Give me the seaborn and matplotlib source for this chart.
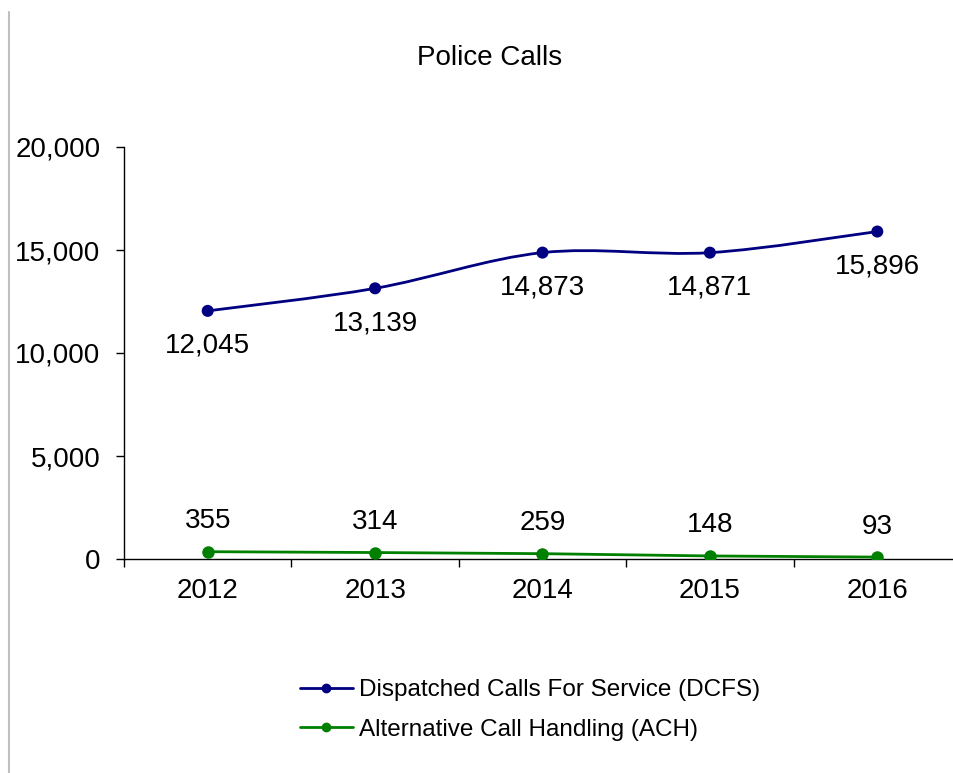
import numpy as np
import pandas as pd
import matplotlib
matplotlib.use("Agg")
import matplotlib.pyplot as plt
import seaborn as sns
from matplotlib.path import Path
from matplotlib.patches import PathPatch
from matplotlib.lines import Line2D
from matplotlib.ticker import FuncFormatter, FixedLocator

years = ["2012", "2013", "2014", "2015", "2016"]
dcfs = [12045, 13139, 14873, 14871, 15896]
ach = [355, 314, 259, 148, 93]
series_names = ["Dispatched Calls For Service (DCFS)", "Alternative Call Handling (ACH)"]
colors = ["#000080", "#008000"]
yticks = [0, 5000, 10000, 15000, 20000]
title = "Police Calls"

sns.set_theme(style="white")
plt.rcParams["font.family"] = ["Liberation Sans", "DejaVu Sans"]
plt.rcParams["text.color"] = "black"

fig = plt.figure(figsize=(9.54, 7.73), dpi=100)
ax = fig.add_axes([124 / 954, (773 - 559) / 773, (961 - 124) / 954, 412 / 773])

x = np.arange(len(years))
df = pd.DataFrame({"x": np.concatenate([x, x]),
                   "value": dcfs + ach,
                   "series": [series_names[0]] * len(years) + [series_names[1]] * len(years)})

# ACH straight line with markers
sns.lineplot(data=df[df.series == series_names[1]], x="x", y="value", ax=ax,
             color=colors[1], lw=2, marker="o", markersize=9, markeredgewidth=0,
             legend=False, zorder=3)
# DCFS markers only; smoothed line drawn as Bezier path
sns.scatterplot(data=df[df.series == series_names[0]], x="x", y="value", ax=ax,
                color=colors[0], s=75, edgecolor="none", legend=False, zorder=4)

pts = np.column_stack([x, dcfs]).astype(float)
verts = [pts[0]]
codes = [Path.MOVETO]
n = len(pts)
for i in range(n - 1):
    p0 = pts[i - 1] if i > 0 else pts[i]
    p1 = pts[i]
    p2 = pts[i + 1]
    p3 = pts[i + 2] if i + 2 < n else pts[i + 1]
    c1 = p1 + (p2 - p0) / 6.0
    c2 = p2 - (p3 - p1) / 6.0
    verts += [c1, c2, p2]
    codes += [Path.CURVE4] * 3
ax.add_patch(PathPatch(Path(verts, codes), facecolor="none", edgecolor=colors[0],
                       lw=2, zorder=3, transform=ax.transData))

# data labels
for xi, v in zip(x, dcfs):
    ax.annotate(f"{v:,}", (xi, v), xytext=(0, -25), textcoords="offset points",
                ha="center", va="center", fontsize=20, color="black")
for xi, v in zip(x, ach):
    ax.annotate(f"{v:,}", (xi, v), xytext=(0, 22), textcoords="offset points",
                ha="center", va="center", fontsize=20, color="black")

ax.set_xlim(-0.5, 4.5)
ax.set_ylim(0, 20000)
ax.set_xticks(x)
ax.set_xticklabels(years)
ax.xaxis.set_minor_locator(FixedLocator(np.arange(-0.5, 4.6, 1.0)))
ax.set_yticks(yticks)
ax.yaxis.set_major_formatter(FuncFormatter(lambda v, p: f"{int(v):,}"))
ax.tick_params(axis="x", which="major", length=0, pad=14, labelsize=20, colors="black")
ax.tick_params(axis="x", which="minor", length=6, width=1, direction="out", color="black", bottom=True)
ax.tick_params(axis="y", which="major", length=6, width=1, direction="out", pad=11,
               labelsize=20, colors="black", left=True)
ax.set_xlabel("")
ax.set_ylabel("")
for s in ["top", "right"]:
    ax.spines[s].set_visible(False)
for s in ["left", "bottom"]:
    ax.spines[s].set_color("black")
    ax.spines[s].set_linewidth(1)
ax.set_facecolor("white")

fig.text(490 / 954, 1 - 58 / 773, title, ha="center", va="center", fontsize=20, color="black")

handles = [Line2D([], [], color=c, lw=2, marker="o", markersize=6) for c in colors]
leg = fig.legend(handles, series_names, loc="center", bbox_to_anchor=(530 / 954, 1 - 710 / 773),
                 frameon=False, fontsize=17.5, handlelength=2.15, handletextpad=0.25,
                 labelspacing=0.72)
for t in leg.get_texts():
    t.set_color("black")

fig.add_artist(Line2D([9 / 954, 9 / 954], [0, 1 - 12 / 773], transform=fig.transFigure,
                      color="#c0c0c0", lw=1.5))

fig.savefig("out.png", dpi=100, facecolor="white")
